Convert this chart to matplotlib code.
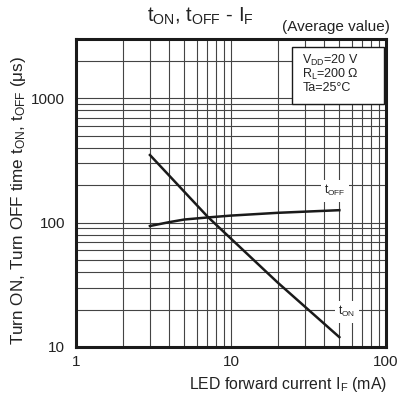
import matplotlib.pyplot as plt
from matplotlib.patches import Rectangle
from matplotlib.ticker import LogLocator, NullFormatter, FixedLocator

plt.rcParams['font.family'] = ['Liberation Sans', 'DejaVu Sans']
plt.rcParams['mathtext.fontset'] = 'custom'
plt.rcParams['mathtext.rm'] = 'Liberation Sans'

# data
if_on = [3, 7.1, 20, 50]
t_on = [350, 111, 33, 12]
if_off = [3, 4, 5, 7, 10, 20, 50]
t_off = [94, 101, 106, 110, 114, 120, 126]

x_ticks = [1, 10, 100]
x_ticklabels = ['1', '10', '100']
y_ticks = [10, 100, 1000]
y_ticklabels = ['10', '100', '1000']

fig = plt.figure(figsize=(3.98, 3.97), dpi=100)
ax = fig.add_axes([76 / 398, 1 - 347 / 397, 310 / 398, 308 / 397])
ax.set_xscale('log')
ax.set_yscale('log')
ax.set_xlim(1, 100)
ax.set_ylim(10, 3000)

ax.xaxis.set_major_locator(FixedLocator(x_ticks))
ax.set_xticklabels(x_ticklabels)
ax.yaxis.set_major_locator(FixedLocator(y_ticks))
ax.set_yticklabels(y_ticklabels)
ax.xaxis.set_minor_locator(LogLocator(base=10, subs=range(2, 10)))
ax.yaxis.set_minor_locator(LogLocator(base=10, subs=range(2, 10)))
ax.xaxis.set_minor_formatter(NullFormatter())
ax.yaxis.set_minor_formatter(NullFormatter())
ax.tick_params(which='both', length=0, labelsize=11, colors='#222222')
ax.tick_params(axis='x', pad=6)
ax.tick_params(axis='y', pad=8)
ax.grid(True, which='both', color='#444444', lw=0.8)
ax.set_axisbelow(True)
for s in ax.spines.values():
    s.set_linewidth(2.2)
    s.set_color('#1a1a1a')

ax.plot(if_on, t_on, color='#1a1a1a', lw=1.8, zorder=3)
ax.plot(if_off, t_off, color='#1a1a1a', lw=1.8, zorder=3)

lbl = dict(ha='center', va='center', fontsize=8.5, color='#222222', zorder=4,
           bbox=dict(facecolor='white', edgecolor='none', pad=2.5))
ax.text(47, 180, r'$\mathregular{t_{OFF}}$', **lbl)
ax.text(56, 19.2, r'$\mathregular{t_{ON}}$', **lbl)

ax.add_patch(Rectangle((0.696, 0.790), 0.297, 0.185, transform=ax.transAxes,
                       facecolor='white', edgecolor='#1a1a1a', lw=1.0, zorder=4))
cond = [r'$\mathregular{V_{DD}}$=20 V', r'$\mathregular{R_{L}}$=200 Ω', 'Ta=25°C']
for i, t in enumerate(cond):
    ax.text(0.73, 0.93 - i * 0.044, t, transform=ax.transAxes, fontsize=9,
            ha='left', va='center', color='#222222', zorder=5)

fig.text(200 / 398, 1 - 16 / 397, r'$\mathregular{t_{ON}}$, $\mathregular{t_{OFF}}$ - $\mathregular{I_{F}}$',
         ha='center', va='center', fontsize=14.5, color='#222222')
fig.text(390 / 398, 1 - 27 / 397, '(Average value)', ha='right', va='center',
         fontsize=11, color='#222222')
fig.text(387 / 398, 1 - 384 / 397, r'LED forward current $\mathregular{I_{F}}$ (mA)',
         ha='right', va='center', fontsize=11.4, color='#222222')
fig.text(19 / 398, 1 - 200 / 397,
         r'Turn ON, Turn OFF time $\mathregular{t_{ON}}$, $\mathregular{t_{OFF}}$ (μs)',
         ha='center', va='center', rotation=90, fontsize=12.3, color='#222222')

plt.savefig('out.png', dpi=100)
